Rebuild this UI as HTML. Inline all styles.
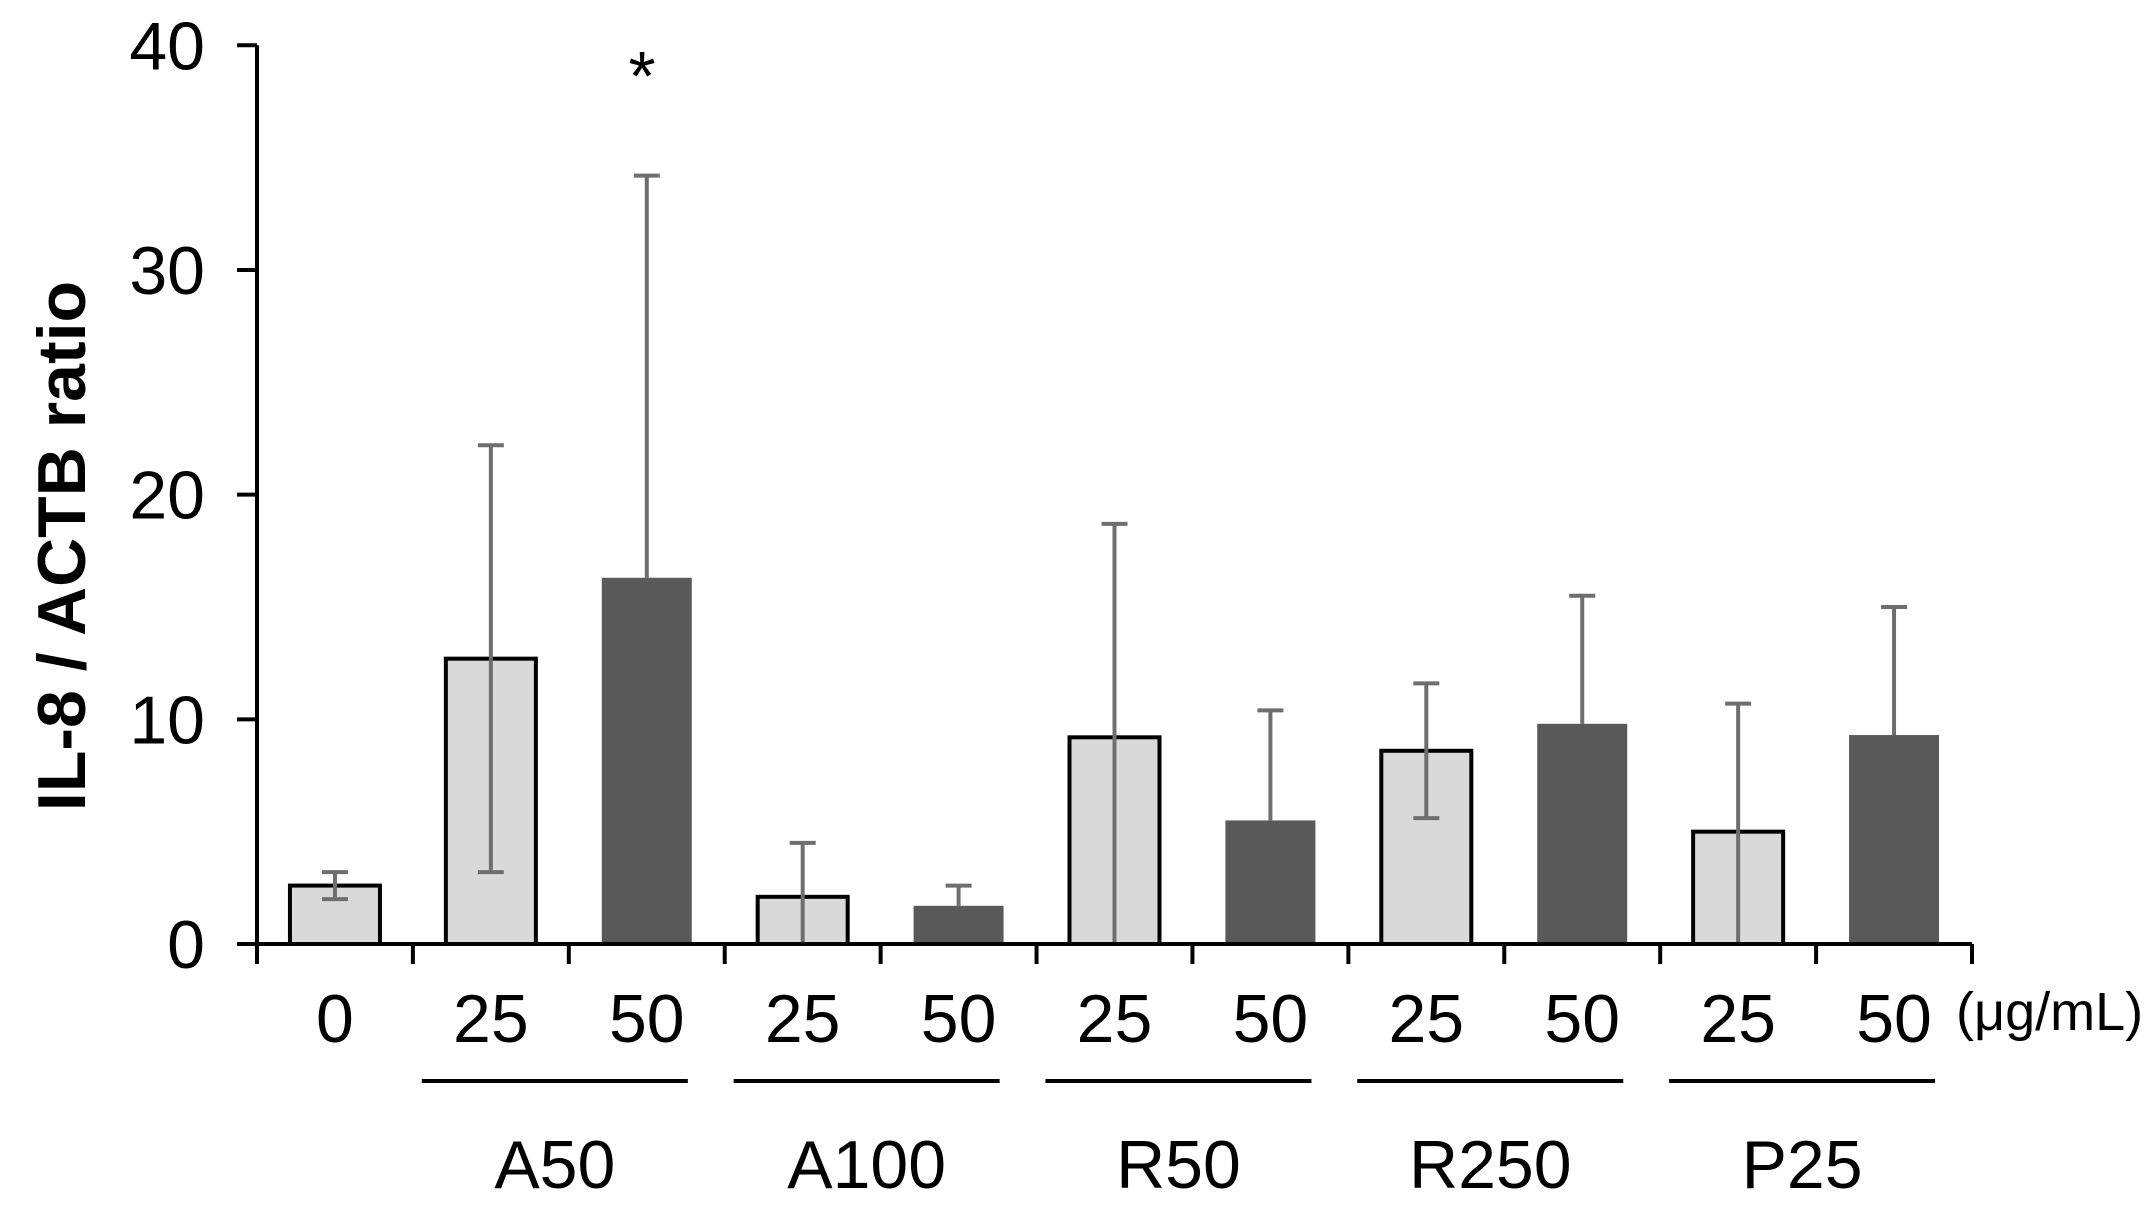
<!DOCTYPE html>
<html><head><meta charset="utf-8"><style>
html,body{margin:0;padding:0;background:#fff;}
svg{display:block;font-family:"Liberation Sans",Arial,sans-serif;}
</style></head><body>
<svg id="chart" width="2152" height="1205" viewBox="0 0 2152 1205" xmlns="http://www.w3.org/2000/svg"></svg>
<script>
const doseLabels = ["0","25","50","25","50","25","50","25","50","25","50"];
const means = [2.6,12.7,16.3,2.1,1.7,9.2,5.5,8.6,9.8,5.0,9.3];
const errors = [0.6,9.5,17.9,2.4,0.9,9.5,4.9,3.0,5.7,5.7,5.7];
const darkFlags = [0,0,1,0,1,0,1,0,1,0,1];
const groups = ["A50","A100","R50","R250","P25"];
const yTicks = [0,10,20,30,40];

const NS="http://www.w3.org/2000/svg";
const svg=document.getElementById('chart');
const X0=257, X1=1972, Y0=944, YTOP=45.3, YMAX=40;
const cw=(X1-X0)/doseLabels.length;
const y=v=>Y0-(v/YMAX)*(Y0-YTOP);
const xc=i=>X0+cw*(i+0.5);
function el(t,a){const e=document.createElementNS(NS,t);for(const k in a)e.setAttribute(k,a[k]);svg.appendChild(e);return e;}

means.forEach((m,i)=>{
  const bw=90;
  const dark=darkFlags[i]===1;
  const r=el('rect',{x:xc(i)-bw/2,y:y(m),width:bw,height:Y0-y(m),fill:dark?'#595959':'#d9d9d9',stroke:dark?'none':'#000','stroke-width':dark?0:4});
  
  
});
means.forEach((m,i)=>{
  const dark=darkFlags[i]===1;
  const top=y(m+errors[i]);
  const bot=dark?y(m):y(Math.max(0,m-errors[i]));
  const g=el('g',{stroke:'#6e6e6e','stroke-width':4});
  
  
  const l=document.createElementNS(NS,'line');
  [['x1',xc(i)],['x2',xc(i)],['y1',top],['y2',bot]].forEach(([k,v])=>l.setAttribute(k,v));g.appendChild(l);
  const c=document.createElementNS(NS,'line');
  [['x1',xc(i)-13],['x2',xc(i)+13],['y1',top],['y2',top]].forEach(([k,v])=>c.setAttribute(k,v));g.appendChild(c);
  if(!dark && m-errors[i]>0.2){
    const c2=document.createElementNS(NS,'line');
    [['x1',xc(i)-13],['x2',xc(i)+13],['y1',bot],['y2',bot]].forEach(([k,v])=>c2.setAttribute(k,v));g.appendChild(c2);
  }
});
let a=el('line',{x1:X0,x2:X0,y1:YTOP,y2:Y0+20,stroke:'#000','stroke-width':4});

a=el('line',{x1:X0-20,x2:X1,y1:Y0,y2:Y0,stroke:'#000','stroke-width':4});

yTicks.forEach(t=>{
  const tk=el('line',{x1:X0-20,x2:X0,y1:y(t),y2:y(t),stroke:'#000','stroke-width':4});
  
  const tx=el('text',{x:X0-52,y:y(t)+24,'text-anchor':'end','font-size':68,fill:'#000'});
  tx.textContent=t;
  
});
for(let i=0;i<=doseLabels.length;i++){
  const tk=el('line',{x1:X0+cw*i,x2:X0+cw*i,y1:Y0,y2:Y0+20,stroke:'#000','stroke-width':4});
  
}
doseLabels.forEach((d,i)=>{
  const tx=el('text',{x:xc(i),y:1042,'text-anchor':'middle','font-size':68,fill:'#000'});
  tx.textContent=d;
  
});
groups.forEach((g,j)=>{
  const cx=(xc(1+2*j)+xc(2+2*j))/2-14;
  const ln=el('line',{x1:cx-133,x2:cx+133,y1:1081,y2:1081,stroke:'#000','stroke-width':4});
  
  const tx=el('text',{x:cx,y:1188,'text-anchor':'middle','font-size':68,fill:'#000'});
  tx.textContent=g;
  
});
let t=el('text',{x:1956,y:1030,'font-size':54,fill:'#000'});t.textContent='(μg/mL)';

t=el('text',{x:642,y:100,'text-anchor':'middle','font-size':70,fill:'#000'});t.textContent='*';

t=el('text',{x:0,y:0,'text-anchor':'middle','font-size':68,'font-weight':'bold',fill:'#000',transform:'translate(85,546) rotate(-90)'});
t.textContent='IL-8 / ACTB ratio';

</script>
</body></html>
